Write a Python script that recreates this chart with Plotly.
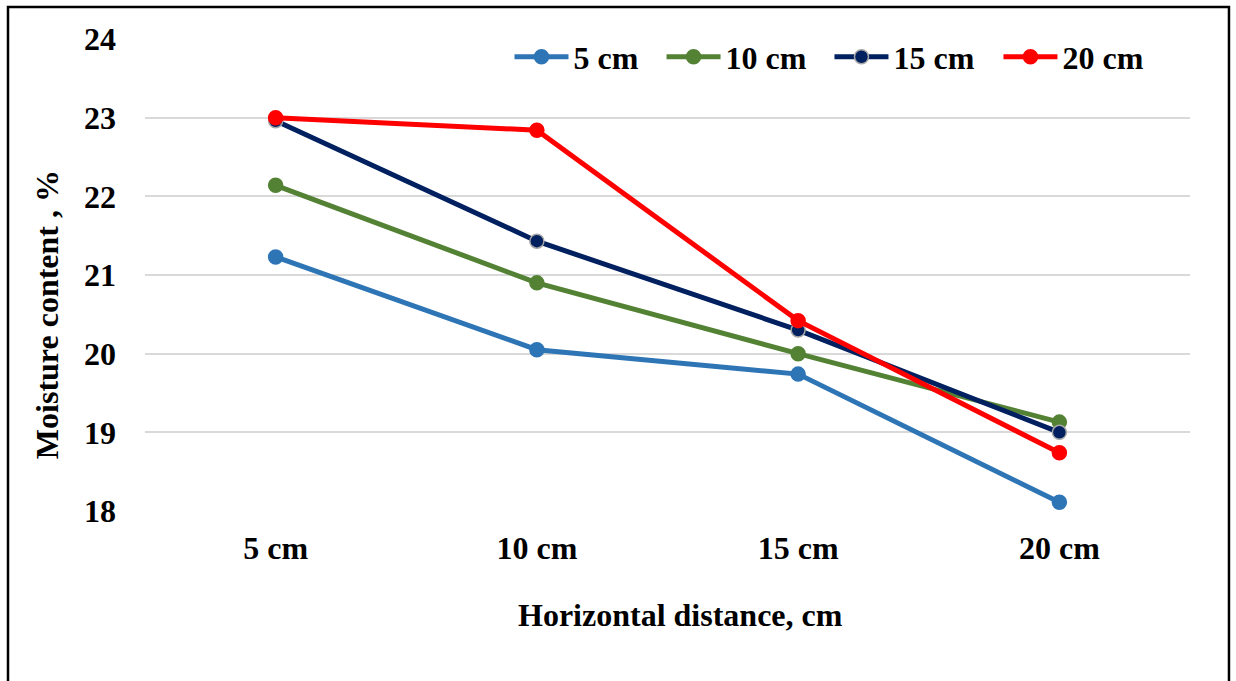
import plotly.graph_objects as go

categories = ["5 cm", "10 cm", "15 cm", "20 cm"]
series_names = ["5 cm", "10 cm", "15 cm", "20 cm"]
s5 = [21.23, 20.05, 19.74, 18.11]
s10 = [22.14, 20.90, 20.00, 19.13]
s15 = [22.96, 21.43, 20.30, 19.00]
s20 = [23.00, 22.84, 20.42, 18.74]
colors = ["#2E75B6", "#548235", "#002060", "#FF0000"]
outline = ["#2E75B6", "#548235", "#A6A6A6", "#FF0000"]
y_ticks = [18, 19, 20, 21, 22, 23, 24]
legend_x = [0.3488, 0.4943, 0.6550, 0.8167]

FONT = "Liberation Serif"
FS = 32

fig = go.Figure()
legend_ids = ["legend", "legend2", "legend3", "legend4"]
for name, vals, c, oc, lid in zip(series_names, [s5, s10, s15, s20], colors, outline, legend_ids):
    fig.add_trace(go.Scatter(
        x=categories, y=vals, name=name, mode="lines+markers",
        line=dict(color=c, width=5),
        marker=dict(color=c, size=14, line=dict(color=oc, width=1.5)),
        legend=lid,
    ))

legend_style = dict(
    orientation="h", xanchor="left", y=0.962, yanchor="middle",
    font=dict(family=FONT, size=FS, color="black", weight="bold"),
    bgcolor="rgba(0,0,0,0)", itemwidth=54,
)

fig.update_layout(
    width=1236, height=681,
    margin=dict(l=145, r=46, t=39, b=170),
    paper_bgcolor="white", plot_bgcolor="white",
    font=dict(family=FONT, size=FS, color="black"),
    showlegend=True,
    legend=dict(x=legend_x[0], **legend_style),
    legend2=dict(x=legend_x[1], **legend_style),
    legend3=dict(x=legend_x[2], **legend_style),
    legend4=dict(x=legend_x[3], **legend_style),
    xaxis=dict(
        type="category", range=[-0.5, 3.5], showgrid=False, showline=False,
        zeroline=False, ticks="", ticklabelstandoff=15,
        tickfont=dict(family=FONT, size=FS, color="black", weight="bold"),
    ),
    yaxis=dict(
        range=[18, 24], tickvals=y_ticks, showgrid=True, gridcolor="#D9D9D9",
        gridwidth=1.5, zeroline=False, showline=False, ticks="",
        ticklabelstandoff=28,
        tickfont=dict(family=FONT, size=FS, color="black", weight="bold"),
    ),
    annotations=[
        dict(text="<b>Horizontal distance, cm</b>", xref="paper", yref="paper",
             x=0.512, y=-0.220, xanchor="center", yanchor="middle",
             showarrow=False, font=dict(family=FONT, size=FS, color="black")),
        dict(text="<b>Moisture content , %</b>", xref="paper", yref="paper",
             x=-0.0938, y=0.417, xanchor="center", yanchor="middle",
             textangle=-90, showarrow=False,
             font=dict(family=FONT, size=FS, color="black")),
    ],
    shapes=[dict(type="rect", xref="paper", yref="paper",
                 x0=-0.1311, x1=1.0373, y0=-0.40, y1=1.0678,
                 line=dict(color="black", width=2.5), layer="above")],
)

fig.write_html("out.html")
